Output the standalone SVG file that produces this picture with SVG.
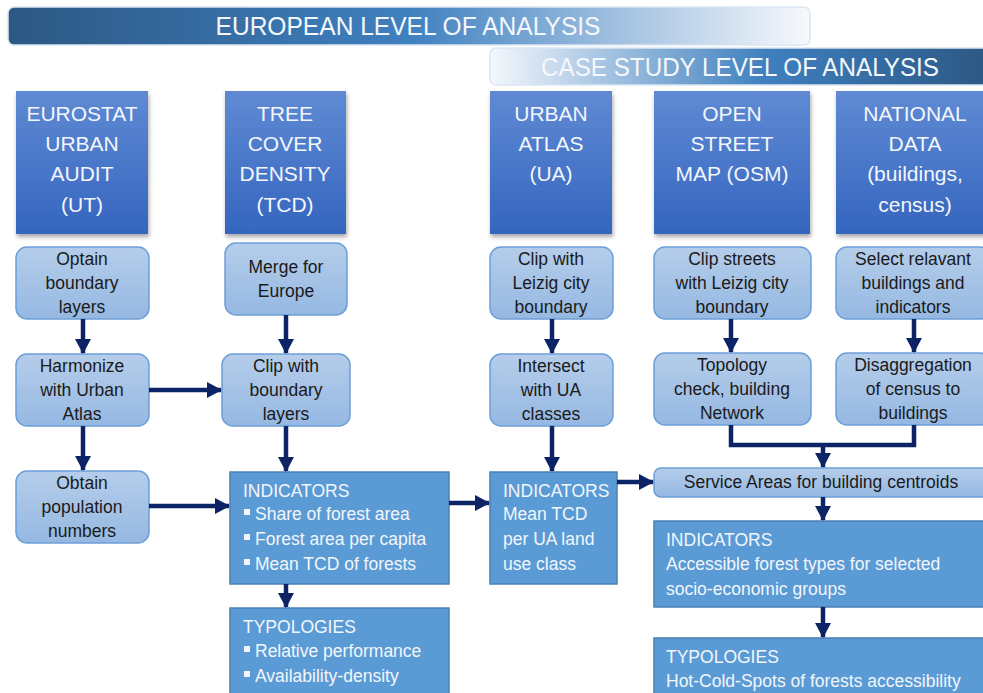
<svg xmlns="http://www.w3.org/2000/svg" width="983" height="693" viewBox="0 0 983 693">
<defs>
<linearGradient id="bannerL" x1="0" y1="0" x2="1" y2="0">
<stop offset="0" stop-color="#2c5884"/><stop offset="0.5" stop-color="#3f80bf"/><stop offset="0.75" stop-color="#9dbedf"/><stop offset="1" stop-color="#f7f9fc"/>
</linearGradient>
<linearGradient id="bannerR" x1="0" y1="0" x2="1" y2="0">
<stop offset="0" stop-color="#f4f8fc"/><stop offset="0.22" stop-color="#a9c6e3"/><stop offset="0.55" stop-color="#3f80bf"/><stop offset="1" stop-color="#2c5884"/>
</linearGradient>
<linearGradient id="src" x1="0" y1="0" x2="0" y2="1">
<stop offset="0" stop-color="#5f8ad3"/><stop offset="1" stop-color="#3565bf"/>
</linearGradient>
<linearGradient id="step" x1="0" y1="0" x2="0" y2="1">
<stop offset="0" stop-color="#b5cdea"/><stop offset="1" stop-color="#95b8e2"/>
</linearGradient>
<filter id="sh" x="-10%" y="-10%" width="130%" height="130%">
<feDropShadow dx="1" dy="3" stdDeviation="2" flood-color="#000" flood-opacity="0.35"/>
</filter>
<marker id="ah" markerUnits="userSpaceOnUse" markerWidth="16" markerHeight="16" refX="14" refY="8" orient="auto">
<path d="M0,0 L15,8 L0,16 Z" fill="#0c2466"/>
</marker>
<style>
.ban{font-family:"Liberation Sans",Arial,sans-serif;font-size:25px;fill:#f4f7fb;text-anchor:middle}
.src rect{fill:url(#src);filter:url(#sh)}
.src text{font-family:"Liberation Sans",Arial,sans-serif;font-size:21px;fill:#f3f6fc;text-anchor:middle}
.step rect{fill:url(#step);stroke:#6c9fd8;stroke-width:1.5}
.step text{font-family:"Liberation Sans",Arial,sans-serif;font-size:17.5px;fill:#1a1a1a;text-anchor:middle}
.res rect{fill:#5b9bd5;stroke:#4b7fb3;stroke-width:1.5}
.res text{font-family:"Liberation Sans",Arial,sans-serif;font-size:17.5px;fill:#f2f6fb}
.res rect.bul{fill:#f2f6fb;stroke:none}
#connectors path{fill:none;stroke:#0c2466;stroke-width:4.5}
</style>
</defs>
<rect width="983" height="693" fill="#ffffff"/>

<g id="banner-european">
<rect x="8" y="7" width="802" height="38" rx="6" fill="url(#bannerL)" stroke="#dce6f2" stroke-width="1.5"/>
<text class="ban" x="408" y="35" textLength="385" lengthAdjust="spacingAndGlyphs">EUROPEAN LEVEL OF ANALYSIS</text>
</g>
<g id="banner-case">
<rect x="490" y="48" width="500" height="37" rx="6" fill="url(#bannerR)" stroke="#dce6f2" stroke-width="1.5"/>
<text class="ban" x="740" y="76" textLength="398" lengthAdjust="spacingAndGlyphs">CASE STUDY LEVEL OF ANALYSIS</text>
</g>

<g id="src-ut" class="src">
<rect x="16" y="91" width="132" height="143"/>
<text x="82" y="121">EUROSTAT</text><text x="82" y="151">URBAN</text><text x="82" y="181">AUDIT</text><text x="82" y="212">(UT)</text>
</g>
<g id="src-tcd" class="src">
<rect x="225" y="91" width="121" height="143"/>
<text x="285" y="121">TREE</text><text x="285" y="151">COVER</text><text x="285" y="181">DENSITY</text><text x="285" y="212">(TCD)</text>
</g>
<g id="src-ua" class="src">
<rect x="490" y="91" width="122" height="143"/>
<text x="551" y="121">URBAN</text><text x="551" y="151">ATLAS</text><text x="551" y="181">(UA)</text>
</g>
<g id="src-osm" class="src">
<rect x="654" y="91" width="156" height="143"/>
<text x="732" y="121">OPEN</text><text x="732" y="151">STREET</text><text x="732" y="181">MAP (OSM)</text>
</g>
<g id="src-nat" class="src">
<rect x="836" y="91" width="150" height="143"/>
<text x="915" y="121">NATIONAL</text><text x="915" y="151">DATA</text><text x="915" y="181">(buildings,</text><text x="915" y="212">census)</text>
</g>

<g id="s-optain" class="step">
<rect x="16" y="247" width="133" height="72" rx="11"/>
<text x="82" y="265">Optain</text><text x="82" y="289">boundary</text><text x="82" y="313">layers</text>
</g>
<g id="s-merge" class="step">
<rect x="225" y="243" width="122" height="72" rx="11"/>
<text x="286" y="273">Merge for</text><text x="286" y="297">Europe</text>
</g>
<g id="s-clipua" class="step">
<rect x="490" y="247" width="123" height="72" rx="11"/>
<text x="551" y="265">Clip with</text><text x="551" y="289">Leizig city</text><text x="551" y="313">boundary</text>
</g>
<g id="s-clipstreets" class="step">
<rect x="654" y="247" width="157" height="72" rx="11"/>
<text x="732" y="265">Clip streets</text><text x="732" y="289">with Leizig city</text><text x="732" y="313">boundary</text>
</g>
<g id="s-select" class="step">
<rect x="836" y="247" width="155" height="72" rx="11"/>
<text x="913" y="265">Select relavant</text><text x="913" y="289">buildings and</text><text x="913" y="313">indicators</text>
</g>

<g id="s-harmonize" class="step">
<rect x="16" y="354" width="133" height="72" rx="11"/>
<text x="82" y="372">Harmonize</text><text x="82" y="396">with Urban</text><text x="82" y="420">Atlas</text>
</g>
<g id="s-clipboundary" class="step">
<rect x="222" y="354" width="128" height="72" rx="11"/>
<text x="286" y="372">Clip with</text><text x="286" y="396">boundary</text><text x="286" y="420">layers</text>
</g>
<g id="s-intersect" class="step">
<rect x="490" y="354" width="123" height="72" rx="11"/>
<text x="551" y="372">Intersect</text><text x="551" y="396">with UA</text><text x="551" y="420">classes</text>
</g>
<g id="s-topology" class="step">
<rect x="654" y="353" width="157" height="72" rx="11"/>
<text x="732" y="371">Topology</text><text x="732" y="395">check, building</text><text x="732" y="419">Network</text>
</g>
<g id="s-disagg" class="step">
<rect x="836" y="353" width="155" height="72" rx="11"/>
<text x="913" y="371">Disaggregation</text><text x="913" y="395">of census to</text><text x="913" y="419">buildings</text>
</g>

<g id="s-population" class="step">
<rect x="16" y="471" width="133" height="72" rx="11"/>
<text x="82" y="489">Obtain</text><text x="82" y="513">population</text><text x="82" y="537">numbers</text>
</g>
<g id="s-service" class="step">
<rect x="654" y="468" width="340" height="29" rx="7"/>
<text x="821" y="488">Service Areas for building centroids</text>
</g>

<g id="r-ind-eu" class="res">
<rect x="230" y="472" width="219" height="112"/>
<text x="243" y="497">INDICATORS</text>
<rect class="bul" x="244" y="509" width="6" height="6"/><text x="255" y="520">Share of forest area</text>
<rect class="bul" x="244" y="534" width="6" height="6"/><text x="255" y="545">Forest area per capita</text>
<rect class="bul" x="244" y="559" width="6" height="6"/><text x="255" y="570">Mean TCD of forests</text>
</g>
<g id="r-typ-eu" class="res">
<rect x="230" y="608" width="219" height="95"/>
<text x="243" y="633">TYPOLOGIES</text>
<rect class="bul" x="244" y="646" width="6" height="6"/><text x="255" y="657">Relative performance</text>
<rect class="bul" x="244" y="671" width="6" height="6"/><text x="255" y="682">Availability-density</text>
</g>
<g id="r-ind-ua" class="res">
<rect x="490" y="472" width="127" height="112"/>
<text x="503" y="497">INDICATORS</text>
<text x="503" y="520">Mean TCD</text>
<text x="503" y="545">per UA land</text>
<text x="503" y="570">use class</text>
</g>
<g id="r-ind-cs" class="res">
<rect x="654" y="521" width="340" height="86"/>
<text x="666" y="546">INDICATORS</text>
<text x="666" y="570">Accessible forest types for selected</text>
<text x="666" y="595">socio-economic  groups</text>
</g>
<g id="r-typ-cs" class="res">
<rect x="654" y="638" width="340" height="65"/>
<text x="666" y="663">TYPOLOGIES</text>
<text x="666" y="687">Hot-Cold-Spots of forests accessibility</text>
</g>

<g id="connectors">
<path d="M83,319 V353" marker-end="url(#ah)"/>
<path d="M286,315 V353" marker-end="url(#ah)"/>
<path d="M149,390 H221" marker-end="url(#ah)"/>
<path d="M83,426 V470" marker-end="url(#ah)"/>
<path d="M286,426 V471" marker-end="url(#ah)"/>
<path d="M149,506 H229" marker-end="url(#ah)"/>
<path d="M449,503 H489" marker-end="url(#ah)"/>
<path d="M286,584 V607" marker-end="url(#ah)"/>
<path d="M552,319 V353" marker-end="url(#ah)"/>
<path d="M552,426 V471" marker-end="url(#ah)"/>
<path d="M617,482 H653" marker-end="url(#ah)"/>
<path d="M731,319 V352" marker-end="url(#ah)"/>
<path d="M914,319 V352" marker-end="url(#ah)"/>
<path d="M731,425 V445 H914 V425"/>
<path d="M823,445 V467" marker-end="url(#ah)"/>
<path d="M823,497 V520" marker-end="url(#ah)"/>
<path d="M823,607 V637" marker-end="url(#ah)"/>
</g>
</svg>
